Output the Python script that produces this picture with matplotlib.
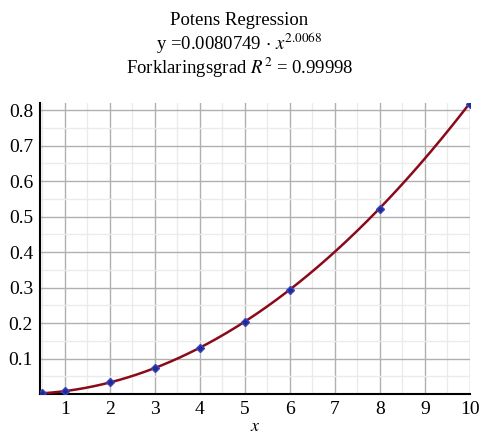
import numpy as np
import matplotlib.pyplot as plt
from matplotlib.ticker import MultipleLocator

# measured points
x_data = [0.5, 1, 2, 3, 4, 5, 6, 8, 10]
y_data = [0.002, 0.008, 0.033, 0.073, 0.130, 0.203, 0.293, 0.520, 0.818]

# power regression y = a * x^b
a = 0.0080749
b = 2.0068
r2 = 0.99998

x_ticks = [1, 2, 3, 4, 5, 6, 7, 8, 9, 10]
y_ticks = [0.1, 0.2, 0.3, 0.4, 0.5, 0.6, 0.7, 0.8]

plt.rcParams['font.family'] = ['Liberation Serif', 'DejaVu Serif']
plt.rcParams['mathtext.fontset'] = 'stix'

fig = plt.figure(figsize=(4.79, 4.36), dpi=100)
ax = fig.add_axes([40 / 479, 42 / 436, 430 / 479, 291 / 436])

xs = np.linspace(min(x_data), max(x_data), 300)
ax.plot(xs, a * xs ** b, color='#8b0a1a', lw=1.8, zorder=3)
ax.plot(x_data, y_data, 'D', color='#1f2a9a', ms=4.5, mec='#3a44b8', zorder=4)

ax.set_xlim(0.45, 10)
ax.set_ylim(0, 0.82)
ax.set_xticks(x_ticks)
ax.set_yticks(y_ticks)
ax.xaxis.set_minor_locator(MultipleLocator(0.5))
ax.yaxis.set_minor_locator(MultipleLocator(0.05))
ax.grid(which='major', color='#b0b0b0', lw=1.0)
ax.grid(which='minor', color='#ebebeb', lw=1.0)
ax.set_axisbelow(True)
ax.tick_params(which='both', length=0, labelsize=14, pad=5)

for side in ['top', 'right']:
    ax.spines[side].set_visible(False)
for side in ['left', 'bottom']:
    ax.spines[side].set_linewidth(1.5)

fig.text(255 / 479, 5 / 436, '$x$', ha='center', va='baseline', fontsize=13)

fig.text(0.5, 1 - 25 / 436, 'Potens Regression', ha='center', va='baseline', fontsize=13.5)
fig.text(0.5, 1 - 50 / 436, r'y =%s $\cdot$ $x^{%s}$' % (a, b), ha='center', va='baseline', fontsize=13.5)
fig.text(0.5, 1 - 74 / 436, r'Forklaringsgrad $R^2$ = %s' % r2, ha='center', va='baseline', fontsize=13.5)

fig.savefig('out.png', dpi=100)
